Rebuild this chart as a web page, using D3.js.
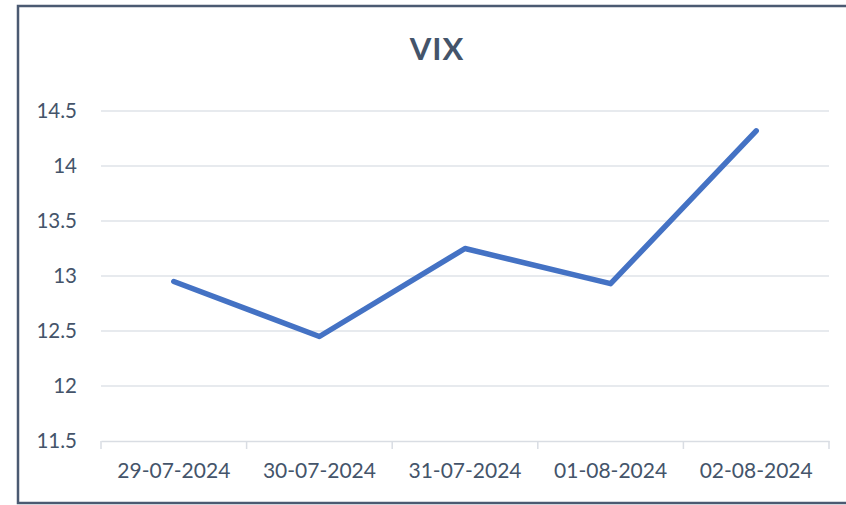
<!DOCTYPE html>
<html>
<head>
<meta charset="utf-8">
<script src="https://cdn.jsdelivr.net/npm/d3@7"></script>
<style>
  body { margin: 0; background: #fff; }
  svg text { font-family: Lato, "Open Sans", sans-serif; }
</style>
</head>
<body>
<div id="chart"></div>
<script>
var dates = ['29-07-2024', '30-07-2024', '31-07-2024', '01-08-2024', '02-08-2024'];
var vix = [12.95, 12.45, 13.25, 12.93, 14.32];
var yTicks = [11.5, 12, 12.5, 13, 13.5, 14, 14.5];

var width = 846, height = 505;
var plotLeft = 101, plotRight = 829, plotTop = 111, plotBottom = 441;
var textColor = '#44546A';

var svg = d3.select('#chart').append('svg')
  .attr('width', width)
  .attr('height', height);

// frame
svg.append('rect')
  .attr('x', 18)
  .attr('y', 6)
  .attr('width', 840)
  .attr('height', 497)
  .attr('fill', 'none')
  .attr('stroke', '#4b5a72')
  .attr('stroke-width', 2.5);

svg.append('text')
  .attr('x', 437)
  .attr('y', 60)
  .attr('text-anchor', 'middle')
  .attr('font-size', 31)
  .attr('font-weight', 'bold')
  .attr('letter-spacing', 1)
  .attr('fill', textColor)
  .text('VIX');

var x = d3.scaleBand().domain(dates).range([plotLeft, plotRight]);
var y = d3.scaleLinear().domain([11.5, 14.5]).range([plotBottom, plotTop]);

// gridlines
svg.append('g')
  .selectAll('line').data(yTicks.filter(function (d) { return d > 11.5; }))
  .enter().append('line')
  .attr('x1', plotLeft)
  .attr('x2', plotRight)
  .attr('y1', function (d) { return y(d); })
  .attr('y2', function (d) { return y(d); })
  .attr('stroke', '#dfe3e8')
  .attr('stroke-width', 1.5);

// y labels
svg.append('g')
  .selectAll('text').data(yTicks)
  .enter().append('text')
  .attr('x', 77)
  .attr('y', function (d) { return y(d); })
  .attr('dy', '0.35em')
  .attr('text-anchor', 'end')
  .attr('font-size', 20.5)
  .attr('fill', textColor)
  .text(function (d) { return d3.format('')(d); });

// x axis
var xAxis = svg.append('g')
  .attr('transform', 'translate(0,' + plotBottom + ')')
  .call(d3.axisBottom(x).tickSize(0).tickPadding(22));
xAxis.select('.domain').attr('stroke', '#d9dde3').attr('stroke-width', 1.5);
xAxis.selectAll('text')
  .attr('font-size', 21)
  .attr('fill', textColor)
  .style('font-family', 'Lato, sans-serif');

var edges = dates.map(function (d) { return x(d); }).concat([plotRight]);
xAxis.selectAll('.edge').data(edges)
  .enter().append('line')
  .attr('class', 'edge')
  .attr('x1', function (d) { return d; })
  .attr('x2', function (d) { return d; })
  .attr('y1', 0)
  .attr('y2', 8)
  .attr('stroke', '#d9dde3')
  .attr('stroke-width', 1.5);

var line = d3.line()
  .x(function (d, i) { return x(dates[i]) + x.bandwidth() / 2; })
  .y(function (d) { return y(d); });

svg.append('path')
  .datum(vix)
  .attr('d', line)
  .attr('fill', 'none')
  .attr('stroke', '#4472C4')
  .attr('stroke-width', 5.5)
  .attr('stroke-linecap', 'round')
  .attr('stroke-linejoin', 'round');
</script>
</body>
</html>
